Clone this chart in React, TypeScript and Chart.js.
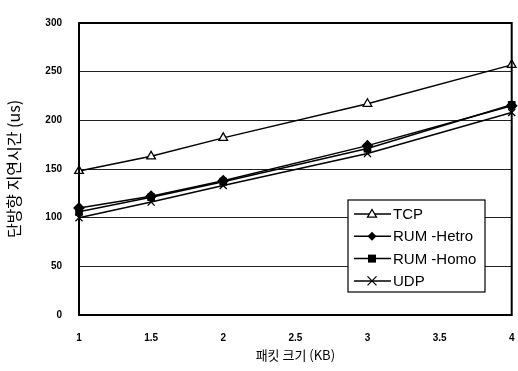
import React, { useEffect, useRef } from "react";
import { Chart, registerables } from "chart.js";

Chart.register(...registerables);

const packetSizes = [1, 1.5, 2, 3, 4];
const tcp = [148, 163, 182, 217, 257];
const rumHetro = [110, 122, 138, 174, 215];
const rumHomo = [106, 121, 137, 171, 216];
const udp = [100, 116, 133, 166, 208];
const seriesNames = ["TCP", "RUM -Hetro", "RUM -Homo", "UDP"];
const xTitle = "패킷 크기 (KB)";
const yTitle = "단방향 지연시간 (us)";

const FONT = "'Liberation Sans', Arial, sans-serif";

const frameAndLegend = {
  id: "frameAndLegend",
  afterDraw(chart: any) {
    const { ctx, chartArea } = chart;
    ctx.save();
    ctx.strokeStyle = "#000";
    ctx.lineWidth = 2;
    ctx.strokeRect(chartArea.left, chartArea.top, chartArea.right - chartArea.left, chartArea.bottom - chartArea.top);

    // legend box
    const bx = 348, by = 200, bw = 137, bh = 92;
    ctx.fillStyle = "#fff";
    ctx.fillRect(bx, by, bw, bh);
    ctx.lineWidth = 1.2;
    ctx.strokeRect(bx, by, bw, bh);
    chart.data.datasets.forEach((ds: any, i: number) => {
      const cy = by + 14 + i * 22.3;
      ctx.beginPath();
      ctx.lineWidth = 1.5;
      ctx.strokeStyle = "#000";
      ctx.moveTo(bx + 6, cy);
      ctx.lineTo(bx + 43, cy);
      ctx.stroke();
      const px = bx + 24;
      ctx.lineWidth = 1.3;
      const st = ds.pointStyle;
      const r = 4.5;
      if (st === "triangle") {
        ctx.beginPath();
        ctx.moveTo(px, cy - r);
        ctx.lineTo(px + r, cy + r * 0.7);
        ctx.lineTo(px - r, cy + r * 0.7);
        ctx.closePath();
        ctx.fillStyle = "#fff";
        ctx.fill();
        ctx.stroke();
      } else if (st === "rectRot") {
        ctx.beginPath();
        ctx.moveTo(px, cy - r);
        ctx.lineTo(px + r, cy);
        ctx.lineTo(px, cy + r);
        ctx.lineTo(px - r, cy);
        ctx.closePath();
        ctx.fillStyle = "#000";
        ctx.fill();
      } else if (st === "rect") {
        ctx.fillStyle = "#000";
        ctx.fillRect(px - 4, cy - 4, 8, 8);
      } else {
        ctx.beginPath();
        ctx.moveTo(px - r, cy - r);
        ctx.lineTo(px + r, cy + r);
        ctx.moveTo(px + r, cy - r);
        ctx.lineTo(px - r, cy + r);
        ctx.stroke();
      }
      ctx.fillStyle = "#000";
      ctx.font = `15px ${FONT}`;
      ctx.textBaseline = "middle";
      ctx.textAlign = "left";
      ctx.fillText(ds.label, bx + 45, cy + 1);
    });
    ctx.restore();
  },
};

export default function App() {
  const ref = useRef<HTMLCanvasElement>(null);
  useEffect(() => {
    document.body.style.margin = "0";
    const mk = (label: string, data: number[], style: string, fill: string, radius: number) => ({
      label,
      data: packetSizes.map((x, i) => ({ x, y: data[i] })),
      borderColor: "#000",
      borderWidth: 1.5,
      pointStyle: style,
      pointRadius: radius,
      pointBackgroundColor: fill,
      pointBorderColor: "#000",
      pointBorderWidth: 1.3,
      tension: 0,
      fill: false,
      clip: false,
    });
    const chart = new Chart(ref.current!, {
      type: "line",
      data: {
        datasets: [
          mk(seriesNames[0], tcp, "triangle", "#fff", 5),
          mk(seriesNames[1], rumHetro, "rectRot", "#000", 5),
          mk(seriesNames[2], rumHomo, "rect", "#000", 4.5),
          mk(seriesNames[3], udp, "crossRot", "#000", 5),
        ],
      } as any,
      options: {
        animation: false,
        responsive: false,
        layout: { padding: { top: 12, right: -1, left: 0, bottom: 0 } },
        plugins: { legend: { display: false }, tooltip: { enabled: false } },
        scales: {
          x: {
            type: "linear",
            min: 1,
            max: 4,
            ticks: {
              stepSize: 0.5,
              color: "#000",
              font: { family: FONT, size: 10, weight: "bold" },
              padding: 17,
              maxRotation: 0,
              callback: (v: number) => String(v),
            },
            grid: { display: false, drawTicks: false },
            border: { display: false },
            title: { display: true, text: xTitle, color: "#000", font: { family: "'Noto Sans CJK KR', sans-serif", size: 13 }, padding: { top: 6, bottom: 8 } },
            afterFit(scale: any) {
              scale.height = 56;
              scale.paddingRight = 0;
              scale.paddingLeft = 0;
            },
          },
          y: {
            min: 0,
            max: 300,
            ticks: { stepSize: 50, color: "#000", font: { family: FONT, size: 10, weight: "bold" }, padding: 17 },
            grid: { color: "#222", lineWidth: 1, drawTicks: false },
            border: { display: false },
            title: { display: true, text: yTitle, color: "#000", font: { family: "'Noto Sans CJK KR', sans-serif", size: 16 }, padding: { bottom: 2 } },
            afterFit(scale: any) {
              scale.width = 79;
            },
          },
        },
      } as any,
      plugins: [frameAndLegend],
    });
    return () => chart.destroy();
  }, []);
  return <canvas ref={ref} width={518} height={371} style={{ display: "block" }} />;
}
